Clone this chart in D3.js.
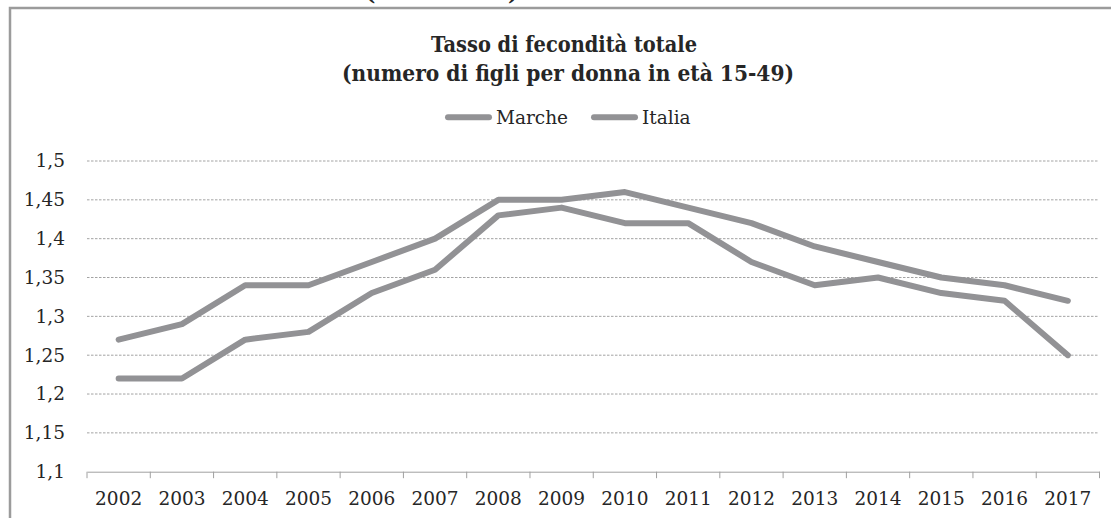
<!DOCTYPE html>
<html>
<head>
<meta charset="utf-8">
<script src="https://cdn.jsdelivr.net/npm/d3@7"></script>
<style>
  body { margin: 0; background: #fff; }
  svg { display: block; }
</style>
</head>
<body>
<div id="chart"></div>
<script>
// values
const years = ["2002","2003","2004","2005","2006","2007","2008","2009","2010","2011","2012","2013","2014","2015","2016","2017"];
const marche = [1.22, 1.22, 1.27, 1.28, 1.33, 1.36, 1.43, 1.44, 1.42, 1.42, 1.37, 1.34, 1.35, 1.33, 1.32, 1.25];
const italia = [1.27, 1.29, 1.34, 1.34, 1.37, 1.40, 1.45, 1.45, 1.46, 1.44, 1.42, 1.39, 1.37, 1.35, 1.34, 1.32];
const yTicks = [1.1, 1.15, 1.2, 1.25, 1.3, 1.35, 1.4, 1.45, 1.5];
const seriesNames = ["Marche", "Italia"];

const width = 1111, height = 518;
const lineColor = "#929295";
const textColor = "#262626";
const font = "'DejaVu Serif', serif";

const it = d3.formatLocale({decimal: ",", thousands: ".", grouping: [3], currency: ["€", ""]});
const fmt = it.format(".2~f");

const svg = d3.select("#chart").append("svg")
    .attr("width", width)
    .attr("height", height)
    .style("font-family", font);

// outer frame of the chart box (right and bottom sides run off the page)
svg.append("rect")
    .attr("x", 10).attr("y", 8)
    .attr("width", 1200).attr("height", 600)
    .attr("fill", "none")
    .attr("stroke", "#9b9b9b")
    .attr("stroke-width", 2.5);

// bits of a heading cut off at the top
svg.append("text").attr("x", 365).attr("y", 0).attr("font-size", 22).attr("font-weight", "bold").attr("fill", textColor).text("(");
svg.append("text").attr("x", 508).attr("y", 0).attr("font-size", 22).attr("font-weight", "bold").attr("fill", textColor).text(")");

const x = d3.scaleBand().domain(years).range([87, 1099.5]);
const y = d3.scaleLinear().domain([1.1, 1.5]).range([471.7, 161]);
const cx = d => x(d) + x.bandwidth() / 2;

// title
const title = svg.append("g").attr("fill", textColor).attr("font-weight", "bold").attr("text-anchor", "middle");
title.append("text").attr("x", 564).attr("y", 52).attr("font-size", 23)
    .attr("textLength", 266).attr("lengthAdjust", "spacingAndGlyphs")
    .text("Tasso di fecondità totale");
title.append("text").attr("x", 568).attr("y", 81).attr("font-size", 23)
    .attr("textLength", 452).attr("lengthAdjust", "spacingAndGlyphs")
    .text("(numero di figli per donna in età 15-49)");

// gridlines
svg.append("g")
    .selectAll("line")
    .data(yTicks.filter(d => d > 1.1))
    .enter().append("line")
      .attr("x1", 87).attr("x2", 1099)
      .attr("y1", d => y(d)).attr("y2", d => y(d))
      .attr("stroke", "#a3a3a3")
      .attr("stroke-width", 1)
      .attr("stroke-dasharray", "2.5,1.5");

// y labels
const yAxis = svg.append("g")
    .attr("transform", "translate(87,0)")
    .call(d3.axisLeft(y).tickValues(yTicks).tickFormat(fmt).tickSize(0).tickPadding(22));
yAxis.select(".domain").remove();
yAxis.selectAll("text").attr("font-family", font).attr("font-size", 18.5).attr("fill", textColor);

// x axis
const xAxis = svg.append("g")
    .attr("transform", `translate(0,${y(1.1)})`)
    .call(d3.axisBottom(x).tickSize(0).tickPadding(20.5));
xAxis.select(".domain").attr("stroke", "#a0a0a0");
xAxis.selectAll("text").attr("font-family", font).attr("font-size", 18.5).attr("fill", textColor);
xAxis.selectAll(".sep")
    .data(years.map(d => x(d)).concat([x.range()[1]]))
    .enter().append("line")
      .attr("class", "sep")
      .attr("x1", d => d).attr("x2", d => d)
      .attr("y1", 0).attr("y2", 6.5)
      .attr("stroke", "#a0a0a0");

// lines
const line = d3.line().x((d, i) => cx(years[i])).y(d => y(d));
svg.append("g")
    .attr("fill", "none")
    .attr("stroke", lineColor)
    .attr("stroke-width", 6)
    .attr("stroke-linejoin", "round")
    .attr("stroke-linecap", "round")
  .selectAll("path")
  .data([marche, italia])
  .enter().append("path")
    .attr("d", line);

// legend
const legendX = [448, 594];
const legend = svg.append("g").selectAll("g")
    .data(seriesNames)
    .enter().append("g")
      .attr("transform", (d, i) => `translate(${legendX[i]},117.3)`);
legend.append("line")
    .attr("x1", 0).attr("x2", 41)
    .attr("stroke", lineColor)
    .attr("stroke-width", 6)
    .attr("stroke-linecap", "round");
legend.append("text")
    .attr("x", 48).attr("y", 7)
    .attr("font-size", 18.5)
    .attr("fill", textColor)
    .text(d => d);
</script>
</body>
</html>
